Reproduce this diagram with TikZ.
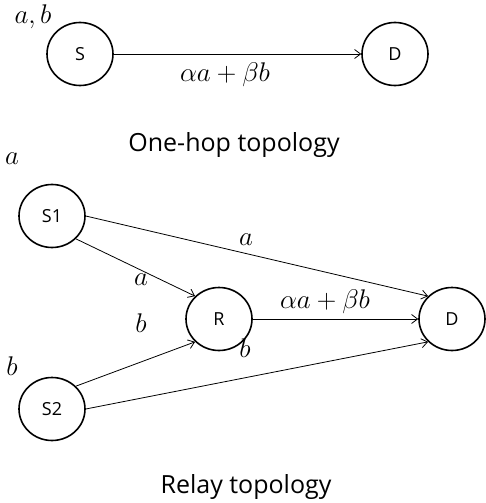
\RequirePackage{fix-cm}
\documentclass[tikz,border=0pt]{standalone}
\usepackage{fontspec}
\setmainfont{Open Sans}
\usetikzlibrary{shapes.geometric,arrows.meta}
\tikzset{
  nodebox/.style={ellipse,draw,line width=1.6pt,minimum width=66pt,minimum height=63pt,inner sep=0pt,font=\fontsize{18}{21}\selectfont},
  link/.style={line width=0.8pt,-{Straight Barb[length=6pt,width=9pt,line width=0.8pt]}},
  mlabel/.style={inner sep=0pt,font=\fontsize{27}{31}\selectfont},
  title/.style={inner sep=0pt,font=\fontsize{25}{30}\selectfont}
}
\begin{document}
\begin{tikzpicture}[x=1pt,y=-1pt]
\useasboundingbox (0,0) rectangle (486,503);
% one-hop
\node[nodebox] (S) at (80,54) {S};
\node[nodebox] (D0) at (395,54) {D};
\draw[link] (S.east) -- (D0.west);
\node[mlabel] (lab0) at (33,17) {$a,b$};
\node[mlabel] (lab1) at (225,75) {$\alpha a+\beta b$};
\node[title] (t1) at (234,145) {One-hop topology};
% relay
\node[nodebox] (S1) at (52,216) {S1};
\node[nodebox] (S2) at (52,409) {S2};
\node[nodebox] (R) at (219,319) {R};
\node[nodebox] (D) at (452,319) {D};
\draw[link] (S1.east) -- (D.north west);
\draw[link] (S1.south east) -- (R.north west);
\draw[link] (S2.north east) -- (R.south west);
\draw[link] (S2.east) -- (D.south west);
\draw[link] (R.east) -- (D.west);
\node[mlabel] (la) at (12,159) {$a$};
\node[mlabel] (lb) at (12,366) {$b$};
\node[mlabel] (l1) at (246,240) {$a$};
\node[mlabel] (l2) at (141,280) {$a$};
\node[mlabel] (l3) at (141,323) {$b$};
\node[mlabel] (l4) at (245,348) {$b$};
\node[mlabel] (l5) at (325,302) {$\alpha a+\beta b$};
\node[title] (t2) at (246,487) {Relay topology};
\end{tikzpicture}
\end{document}
